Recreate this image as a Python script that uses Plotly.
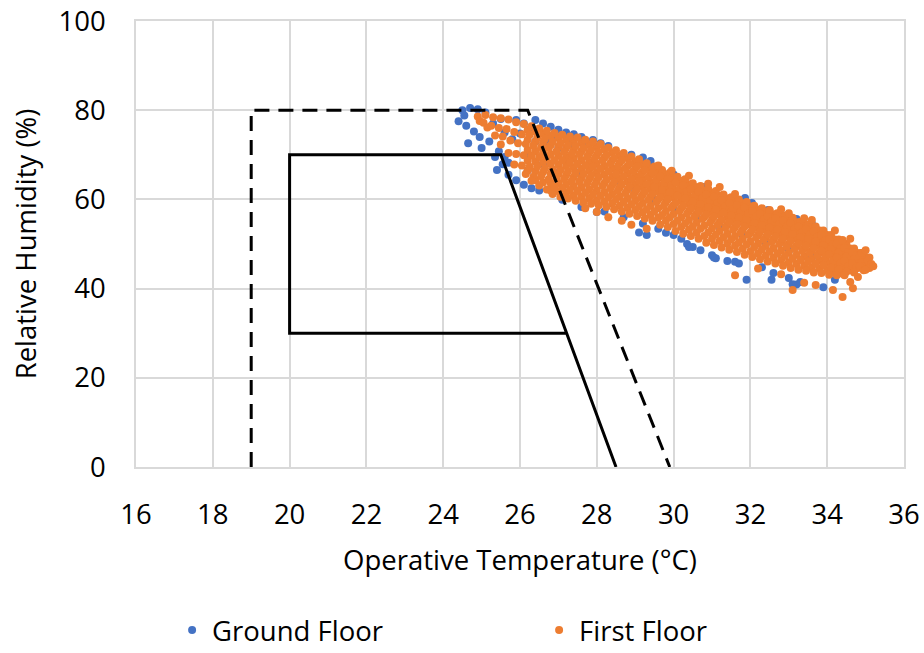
import plotly.graph_objects as go

# ---------------- data ----------------
x_ticks = [16, 18, 20, 22, 24, 26, 28, 30, 32, 34, 36]
y_ticks = [0, 20, 40, 60, 80, 100]

# comfort zones (operative temperature, relative humidity)
dashed_zone_t = [19.0, 19.0, 26.2, 29.9]
dashed_zone_rh = [0, 80, 80, 0]
solid_zone_t = [27.21, 20.0, 20.0, 25.5, 28.5]
solid_zone_rh = [30, 30, 70, 70, 0]

# Ground Floor samples (T degC, RH %)
ground_points = [
    (24.5, 80.0), (24.7, 80.5), (24.4, 77.5), (24.55, 78.8), (24.8, 75.2), (24.6, 76.5),
    (24.65, 72.6), (24.95, 74.0), (25.0, 71.5), (25.2, 73.0), (25.35, 69.5), (25.4, 66.6),
    (25.55, 67.9), (25.7, 65.5), (25.9, 64.3), (26.1, 63.3), (26.3, 62.5), (26.5, 62.0),
    (27.1, 59.9), (28.0, 57.2), (25.9, 77.8), (26.1, 77.0), (26.3, 76.2), (26.6, 77.0),
    (26.8, 76.3), (27.0, 75.6), (27.2, 75.0), (27.4, 74.6), (27.6, 74.0), (27.9, 73.3),
    (26.4, 77.8), (25.1, 79.5), (24.9, 80.2), (25.7, 68.2), (25.45, 70.8), (25.6, 75.0),
    (25.8, 73.5), (26.0, 74.8), (26.4, 73.0), (26.7, 72.8), (27.0, 71.5), (26.2, 70.0),
    (25.6, 69.5), (26.6, 68.0), (27.2, 68.5), (26.9, 66.0), (27.5, 66.0), (26.2, 66.5),
    (25.3, 77.0), (25.5, 78.0), (26.9, 74.2), (27.3, 72.6), (27.7, 72.5), (28.1, 72.6),
    (28.3, 72.0), (28.9, 70.0), (29.2, 69.4), (29.4, 68.6), (30.0, 65.6), (30.8, 62.8),
    (31.86, 60.3), (32.04, 59.2), (32.46, 57.6), (32.8, 56.6), (33.2, 55.6), (33.6, 54.6),
    (27.6, 58.3), (28.2, 57.3), (28.7, 56.0), (29.1, 52.6), (29.3, 52.0), (29.2, 54.6),
    (29.6, 53.4), (29.8, 52.5), (30.0, 52.0), (30.2, 51.2), (30.35, 50.0), (30.5, 49.3),
    (30.7, 48.6), (30.4, 49.3), (31.0, 47.5), (31.1, 46.8), (31.05, 47.0), (31.4, 46.2),
    (31.6, 46.0), (31.7, 45.6), (31.9, 42.0), (32.3, 44.8), (32.6, 43.5), (32.55, 42.0),
    (33.0, 42.4), (33.1, 41.0), (33.2, 40.9), (33.3, 41.5), (33.9, 40.3), (34.2, 42.0),
    (28.5, 64.0), (29.0, 62.0), (29.5, 60.0), (30.0, 58.0), (30.6, 56.0), (31.2, 54.0),
    (31.8, 52.0), (32.4, 50.0), (33.0, 48.5), (33.6, 47.0), (34.2, 46.0), (34.8, 45.5),
]

# First Floor samples (T degC, RH %)
first_points = [
    (24.9, 78.6), (24.95, 77.6),
    (25.1, 78.9), (25.05, 77.2), (25.15, 76.1),
    (25.3, 78.4), (25.25, 76.5), (25.35, 74.3),
    (25.5, 78.2), (25.45, 76.0), (25.55, 74.1), (25.5, 72.3),
    (25.7, 77.9), (25.65, 75.8), (25.75, 73.2), (25.7, 70.4),
    (25.9, 77.3), (25.85, 75.1), (25.95, 72.6), (25.9, 70.2), (25.85, 67.8),
    (26.1, 76.9), (26.05, 74.6), (26.15, 72.4), (26.1, 69.9), (26.05, 67.6), (26.15, 65.7),
    (26.3, 76.4), (26.25, 74.5), (26.35, 72.1), (26.3, 69.8), (26.25, 67.3), (26.35, 65.1), (26.3, 64.2),
    (26.5, 75.9), (26.45, 73.8), (26.55, 71.7), (26.5, 69.5), (26.45, 67.4), (26.55, 65.2), (26.5, 63.1),
    (26.7, 75.4), (26.65, 73.6), (26.75, 71.5), (26.7, 69.3), (26.65, 67.0), (26.75, 64.6), (26.7, 62.2),
    (26.9, 74.9), (26.85, 72.9), (26.95, 70.8), (26.9, 68.8), (26.85, 66.7), (26.95, 64.7), (26.9, 62.8), (26.85, 61.2),
    (27.1, 74.5), (27.05, 72.6), (27.15, 70.7), (27.1, 68.7), (27.05, 66.6), (27.15, 64.6), (27.1, 62.5), (27.05, 60.6),
    (27.3, 74.1), (27.25, 72.2), (27.35, 70.3), (27.3, 68.4), (27.25, 66.3), (27.35, 64.2), (27.3, 62.1), (27.25, 60.2),
    (27.5, 73.9), (27.45, 72.0), (27.55, 70.1), (27.5, 68.0), (27.45, 66.0), (27.55, 64.0), (27.5, 61.9), (27.45, 59.7),
    (27.7, 73.4), (27.65, 71.5), (27.75, 69.6), (27.7, 67.6), (27.65, 65.7), (27.75, 63.6), (27.7, 61.5), (27.65, 59.3),
    (27.9, 73.0), (27.85, 71.1), (27.95, 69.2), (27.9, 67.3), (27.85, 65.3), (27.95, 63.3), (27.9, 61.1), (27.85, 59.0),
    (28.1, 72.4), (28.05, 70.6), (28.15, 68.8), (28.1, 66.9), (28.05, 65.0), (28.15, 63.0), (28.1, 60.8), (28.05, 58.7),
    (28.3, 71.6), (28.25, 69.9), (28.35, 68.1), (28.3, 66.3), (28.25, 64.4), (28.35, 62.5), (28.3, 60.4), (28.25, 58.3),
    (28.5, 71.0), (28.45, 69.3), (28.55, 67.5), (28.5, 65.7), (28.45, 63.9), (28.55, 62.0), (28.5, 60.0), (28.45, 57.8),
    (28.7, 70.4), (28.65, 68.8), (28.75, 67.0), (28.7, 65.2), (28.65, 63.4), (28.75, 61.5), (28.7, 59.4), (28.65, 57.3),
    (28.9, 69.6), (28.85, 68.0), (28.95, 66.3), (28.9, 64.6), (28.85, 62.9), (28.95, 61.0), (28.9, 58.9), (28.85, 56.8),
    (29.1, 69.0), (29.05, 67.4), (29.15, 65.7), (29.1, 64.1), (29.05, 62.3), (29.15, 60.5), (29.1, 58.4), (29.05, 56.3),
    (29.3, 68.1), (29.25, 66.6), (29.35, 65.0), (29.3, 63.4), (29.25, 61.7), (29.35, 59.9), (29.3, 57.8), (29.25, 55.7),
    (29.5, 67.4), (29.45, 65.9), (29.55, 64.4), (29.5, 62.8), (29.45, 61.2), (29.55, 59.4), (29.5, 57.3), (29.45, 55.2),
    (29.7, 66.6), (29.65, 65.2), (29.75, 63.7), (29.7, 62.1), (29.65, 60.5), (29.75, 58.7), (29.7, 56.5), (29.65, 54.3),
    (29.9, 66.0), (29.85, 64.6), (29.95, 63.1), (29.9, 61.6), (29.85, 60.0), (29.95, 58.2), (29.9, 56.0), (29.85, 53.8),
    (30.1, 65.1), (30.05, 63.8), (30.15, 62.3), (30.1, 60.8), (30.05, 59.2), (30.15, 57.4), (30.1, 55.2), (30.05, 52.9),
    (30.3, 64.5), (30.25, 63.1), (30.35, 61.7), (30.3, 60.2), (30.25, 58.6), (30.35, 56.8), (30.3, 54.6), (30.25, 52.3),
    (30.5, 63.6), (30.45, 62.3), (30.55, 60.9), (30.5, 59.5), (30.45, 57.9), (30.55, 56.2), (30.5, 54.0), (30.45, 51.8),
    (30.7, 63.0), (30.65, 61.7), (30.75, 60.3), (30.7, 58.9), (30.65, 57.3), (30.75, 55.6), (30.7, 53.4), (30.65, 51.2),
    (30.9, 62.4), (30.85, 61.1), (30.95, 59.7), (30.9, 58.2), (30.85, 56.6), (30.95, 54.8), (30.9, 52.6), (30.85, 50.3),
    (31.1, 61.9), (31.05, 60.6), (31.15, 59.2), (31.1, 57.7), (31.05, 56.1), (31.15, 54.3), (31.1, 52.1), (31.05, 49.8),
    (31.3, 61.1), (31.25, 59.8), (31.35, 58.4), (31.3, 57.0), (31.25, 55.4), (31.35, 53.7), (31.3, 51.5), (31.25, 49.2),
    (31.5, 60.5), (31.45, 59.2), (31.55, 57.8), (31.5, 56.4), (31.45, 54.9), (31.55, 53.2), (31.5, 51.0), (31.45, 48.7),
    (31.7, 60.0), (31.65, 58.7), (31.75, 57.3), (31.7, 55.9), (31.65, 54.4), (31.75, 52.6), (31.7, 50.4), (31.65, 48.2),
    (31.9, 59.4), (31.85, 58.1), (31.95, 56.8), (31.9, 55.4), (31.85, 53.9), (31.95, 52.1), (31.9, 49.9), (31.85, 47.6),
    (32.1, 58.6), (32.05, 57.4), (32.15, 56.1), (32.1, 54.7), (32.05, 53.2), (32.15, 51.5), (32.1, 49.3), (32.05, 47.1),
    (32.3, 58.0), (32.25, 56.8), (32.35, 55.5), (32.3, 54.2), (32.25, 52.7), (32.35, 51.0), (32.3, 48.8), (32.25, 46.6),
    (32.5, 57.4), (32.45, 56.2), (32.55, 55.0), (32.5, 53.7), (32.45, 52.2), (32.55, 50.5), (32.5, 48.3), (32.45, 46.1),
    (32.7, 56.9), (32.65, 55.7), (32.75, 54.5), (32.7, 53.2), (32.65, 51.7), (32.75, 50.0), (32.7, 47.8), (32.65, 45.6),
    (32.9, 56.4), (32.85, 55.2), (32.95, 54.0), (32.9, 52.7), (32.85, 51.2), (32.95, 49.5), (32.9, 47.3), (32.85, 45.1),
    (33.1, 55.9), (33.05, 54.7), (33.15, 53.5), (33.1, 52.2), (33.05, 50.7), (33.15, 49.0), (33.1, 46.8), (33.05, 44.6),
    (33.3, 55.0), (33.25, 53.9), (33.35, 52.7), (33.3, 51.5), (33.25, 50.1), (33.35, 48.5), (33.3, 46.4), (33.25, 44.2),
    (33.5, 54.4), (33.45, 53.3), (33.55, 52.2), (33.5, 51.0), (33.45, 49.6), (33.55, 48.0), (33.5, 46.0), (33.45, 44.0),
    (33.7, 53.9), (33.65, 52.8), (33.75, 51.7), (33.7, 50.5), (33.65, 49.1), (33.75, 47.5), (33.7, 45.6), (33.65, 43.6),
    (33.9, 53.0), (33.85, 52.0), (33.95, 50.9), (33.9, 49.8), (33.85, 48.5), (33.95, 47.0), (33.9, 45.3), (33.85, 43.5),
    (34.1, 52.0), (34.05, 51.0), (34.15, 50.0), (34.1, 48.9), (34.05, 47.7), (34.15, 46.3), (34.1, 44.7), (34.05, 43.1),
    (34.3, 51.0), (34.25, 50.1), (34.35, 49.1), (34.3, 48.1), (34.25, 47.0), (34.35, 45.7), (34.3, 44.3), (34.25, 43.0),
    (34.5, 50.0), (34.45, 49.1), (34.55, 48.2), (34.5, 47.2), (34.45, 46.2), (34.55, 45.0), (34.5, 43.8), (34.45, 43.0),
    (34.7, 49.0), (34.65, 48.2), (34.75, 47.4), (34.7, 46.5), (34.65, 45.6), (34.75, 44.6), (34.7, 43.6),
    (34.9, 48.0), (34.85, 47.3), (34.95, 46.6), (34.9, 45.8), (34.85, 45.0), (34.95, 44.1),
    (35.1, 47.0), (35.05, 46.3), (35.15, 45.5), (35.1, 44.6),
    (27.7, 58.0), (28.0, 57.2), (28.3, 56.0), (28.65, 55.2), (28.9, 54.3), (29.3, 53.4),
    (33.1, 39.7), (34.15, 39.7), (34.4, 38.1), (33.4, 41.3), (33.7, 40.8), (34.67, 40.1),
    (34.8, 42.6), (35.0, 44.2), (34.9, 48.0), (34.4, 50.9), (33.4, 55.8), (32.5, 57.6),
    (31.6, 43.0), (32.2, 44.5), (32.8, 43.2), (35.2, 45.0), (34.6, 41.5),
    (29.6, 67.6), (30.4, 65.3), (31.2, 62.8), (32.8, 57.8), (33.6, 55.4), (34.2, 53.0),
    (34.6, 51.2), (30.9, 63.5), (29.95, 66.4), (31.6, 61.2), (33.0, 56.9), (35.0, 48.6),
]

# First Floor samples, dense core of the cloud (T degC, RH %)
first_core_points = [
    (26.2, 75.6), (26.2, 73.4), (26.2, 71.1), (26.2, 68.7), (26.2, 66.5),
    (26.4, 75.2), (26.4, 73.0), (26.4, 70.8), (26.4, 68.5), (26.4, 66.3), (26.4, 64.3),
    (26.6, 74.7), (26.6, 72.7), (26.6, 70.5), (26.6, 68.3), (26.6, 66.1), (26.6, 63.8),
    (26.8, 74.2), (26.8, 72.2), (26.8, 70.1), (26.8, 68.0), (26.8, 65.8), (26.8, 63.6), (26.8, 62.0),
    (27.0, 73.8), (27.0, 71.8), (27.0, 69.8), (27.0, 67.7), (27.0, 65.7), (27.0, 63.7), (27.0, 61.8),
    (27.2, 73.4), (27.2, 71.5), (27.2, 69.5), (27.2, 67.5), (27.2, 65.4), (27.2, 63.4), (27.2, 61.4),
    (27.4, 73.0), (27.4, 71.1), (27.4, 69.2), (27.4, 67.2), (27.4, 65.1), (27.4, 63.0), (27.4, 60.9),
    (27.6, 72.7), (27.6, 70.8), (27.6, 68.8), (27.6, 66.8), (27.6, 64.8), (27.6, 62.7), (27.6, 60.6),
    (27.8, 72.2), (27.8, 70.4), (27.8, 68.4), (27.8, 66.5), (27.8, 64.5), (27.8, 62.3), (27.8, 60.2),
    (28.0, 71.8), (28.0, 69.9), (28.0, 68.0), (28.0, 66.1), (28.0, 64.1), (28.0, 62.0), (28.0, 59.8),
    (28.2, 71.2), (28.2, 69.4), (28.2, 67.5), (28.2, 65.6), (28.2, 63.7), (28.2, 61.6), (28.2, 59.5),
    (28.4, 70.5), (28.4, 68.7), (28.4, 66.9), (28.4, 65.1), (28.4, 63.2), (28.4, 61.2), (28.4, 59.1),
    (28.6, 69.9), (28.6, 68.2), (28.6, 66.4), (28.6, 64.6), (28.6, 62.7), (28.6, 60.7), (28.6, 58.6),
    (28.8, 69.2), (28.8, 67.5), (28.8, 65.8), (28.8, 64.0), (28.8, 62.2), (28.8, 60.2), (28.8, 58.1),
    (29.0, 68.5), (29.0, 66.9), (29.0, 65.2), (29.0, 63.4), (29.0, 61.7), (29.0, 59.7), (29.0, 57.6),
    (29.2, 67.8), (29.2, 66.2), (29.2, 64.6), (29.2, 62.9), (29.2, 61.1), (29.2, 59.2), (29.2, 57.1),
    (29.4, 67.0), (29.4, 65.5), (29.4, 63.9), (29.4, 62.3), (29.4, 60.6), (29.4, 58.6), (29.4, 56.5),
    (29.6, 66.3), (29.6, 64.8), (29.6, 63.3), (29.6, 61.7), (29.6, 60.0), (29.6, 58.0), (29.6, 55.9),
    (29.8, 65.6), (29.8, 64.2), (29.8, 62.6), (29.8, 61.1), (29.8, 59.4), (29.8, 57.4), (29.8, 55.2),
    (30.0, 64.9), (30.0, 63.5), (30.0, 62.0), (30.0, 60.4), (30.0, 58.7), (30.0, 56.7), (30.0, 54.5),
    (30.2, 64.1), (30.2, 62.7), (30.2, 61.3), (30.2, 59.7), (30.2, 58.0), (30.2, 56.0), (30.2, 53.8),
    (30.4, 63.4), (30.4, 62.1), (30.4, 60.6), (30.4, 59.1), (30.4, 57.4), (30.4, 55.4), (30.4, 53.2),
    (30.6, 62.7), (30.6, 61.3), (30.6, 59.9), (30.6, 58.4), (30.6, 56.8), (30.6, 54.8), (30.6, 52.6),
    (30.8, 62.0), (30.8, 60.7), (30.8, 59.3), (30.8, 57.8), (30.8, 56.1), (30.8, 54.1), (30.8, 51.8),
    (31.0, 61.5), (31.0, 60.2), (31.0, 58.7), (31.0, 57.2), (31.0, 55.5), (31.0, 53.5), (31.0, 51.2),
    (31.2, 60.9), (31.2, 59.5), (31.2, 58.1), (31.2, 56.6), (31.2, 54.9), (31.2, 52.9), (31.2, 50.7),
    (31.4, 60.2), (31.4, 58.9), (31.4, 57.5), (31.4, 56.0), (31.4, 54.3), (31.4, 52.3), (31.4, 50.1),
    (31.6, 59.7), (31.6, 58.3), (31.6, 57.0), (31.6, 55.5), (31.6, 53.8), (31.6, 51.8), (31.6, 49.6),
    (31.8, 59.1), (31.8, 57.7), (31.8, 56.4), (31.8, 54.9), (31.8, 53.2), (31.8, 51.2), (31.8, 49.0),
    (32.0, 58.4), (32.0, 57.1), (32.0, 55.8), (32.0, 54.3), (32.0, 52.6), (32.0, 50.6), (32.0, 48.4),
    (32.2, 57.7), (32.2, 56.5), (32.2, 55.1), (32.2, 53.7), (32.2, 52.0), (32.2, 50.1), (32.2, 47.9),
    (32.4, 57.1), (32.4, 55.9), (32.4, 54.6), (32.4, 53.2), (32.4, 51.5), (32.4, 49.6), (32.4, 47.4),
    (32.6, 56.6), (32.6, 55.4), (32.6, 54.1), (32.6, 52.7), (32.6, 51.0), (32.6, 49.1), (32.6, 46.9),
    (32.8, 56.1), (32.8, 54.9), (32.8, 53.6), (32.8, 52.2), (32.8, 50.5), (32.8, 48.6), (32.8, 46.4),
    (33.0, 55.6), (33.0, 54.4), (33.0, 53.1), (33.0, 51.7), (33.0, 50.0), (33.0, 48.1), (33.0, 45.9),
    (33.2, 54.9), (33.2, 53.7), (33.2, 52.5), (33.2, 51.1), (33.2, 49.5), (33.2, 47.6), (33.2, 45.5),
    (33.4, 54.2), (33.4, 53.0), (33.4, 51.9), (33.4, 50.5), (33.4, 49.0), (33.4, 47.2), (33.4, 45.1),
    (33.6, 53.7), (33.6, 52.5), (33.6, 51.4), (33.6, 50.0), (33.6, 48.5), (33.6, 46.7), (33.6, 44.8),
    (33.8, 53.0), (33.8, 51.9), (33.8, 50.8), (33.8, 49.5), (33.8, 48.0), (33.8, 46.3), (33.8, 44.5),
    (34.0, 52.0), (34.0, 51.0), (34.0, 50.0), (34.0, 48.8), (34.0, 47.4), (34.0, 45.8), (34.0, 44.1),
    (34.2, 51.0), (34.2, 50.0), (34.2, 49.0), (34.2, 47.9), (34.2, 46.7), (34.2, 45.2), (34.2, 43.7),
    (34.4, 50.0), (34.4, 49.1), (34.4, 48.1), (34.4, 47.1), (34.4, 46.0), (34.4, 44.6), (34.4, 43.4),
    (34.6, 49.0), (34.6, 48.2), (34.6, 47.3), (34.6, 46.3), (34.6, 45.2), (34.6, 44.1),
    (34.8, 48.0), (34.8, 47.3), (34.8, 46.5), (34.8, 45.6), (34.8, 44.6),
    (35.0, 47.0), (35.0, 46.3), (35.0, 45.5), (35.0, 44.7),
]

ground_t = [p[0] for p in ground_points]
ground_rh = [p[1] for p in ground_points]
first_t = [p[0] for p in first_core_points + first_points]
first_rh = [p[1] for p in first_core_points + first_points]

# ---------------- figure ----------------
FONT = "Open Sans"
FS = 27.5
fig = go.Figure()

fig.add_trace(go.Scatter(
    x=ground_t, y=ground_rh, mode="markers", name="Ground Floor",
    marker=dict(color="#4472C4", size=8, line=dict(width=0)),
))
fig.add_trace(go.Scatter(
    x=first_t, y=first_rh, mode="markers", name="First Floor",
    marker=dict(color="#ED7D31", size=8, line=dict(width=0)),
))
fig.add_trace(go.Scatter(
    x=dashed_zone_t, y=dashed_zone_rh, mode="lines", showlegend=False,
    line=dict(color="black", width=3, dash="15px,9px"), hoverinfo="skip",
))
fig.add_trace(go.Scatter(
    x=solid_zone_t, y=solid_zone_rh, mode="lines", showlegend=False,
    line=dict(color="black", width=3), hoverinfo="skip",
))

fig.update_layout(
    width=924, height=653,
    margin=dict(l=136, r=20, t=21, b=186, autoexpand=False),
    paper_bgcolor="white", plot_bgcolor="white",
    font=dict(family=FONT, size=FS, color="black"),
    showlegend=True,
    legend=dict(
        orientation="h", x=0.047, xanchor="left", y=-0.366, yanchor="middle",
        font=dict(family=FONT, size=27.5, color="black"),
        entrywidth=322, itemsizing="trace", borderwidth=0,
    ),
)
fig.update_xaxes(
    range=[16, 36], tickvals=x_ticks, ticktext=[str(v) for v in x_ticks],
    showgrid=True, gridcolor="#D9D9D9", gridwidth=1.5,
    showline=True, linecolor="#D9D9D9", linewidth=1.5, mirror=True,
    zeroline=False, ticks="", ticklabelstandoff=22, automargin=False,
    title=dict(text="Operative Temperature (°C)", font=dict(size=FS), standoff=20),
    tickfont=dict(size=FS),
)
fig.update_yaxes(
    range=[0, 100], tickvals=y_ticks, ticktext=[str(v) for v in y_ticks],
    showgrid=True, gridcolor="#D9D9D9", gridwidth=1.5,
    showline=True, linecolor="#D9D9D9", linewidth=1.5, mirror=True,
    zeroline=False, ticks="", ticklabelstandoff=23, automargin=False,
    title=dict(text="Relative Humidity (%)", font=dict(size=FS), standoff=14),
    tickfont=dict(size=FS),
)

fig.write_html("out.html")
